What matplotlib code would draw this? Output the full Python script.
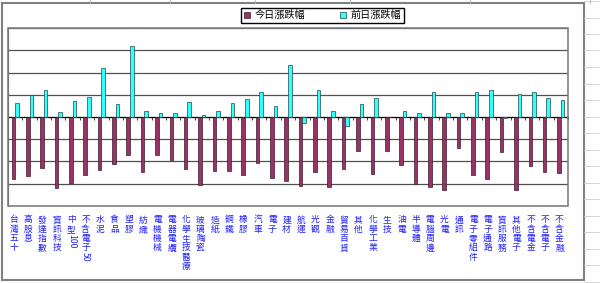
import matplotlib.pyplot as plt
import numpy as np
from matplotlib.patches import Rectangle, Patch
from matplotlib.lines import Line2D

plt.rcParams['font.family'] = ['Noto Sans CJK TC', 'DejaVu Sans']

# categories and values
categories = ['台灣五十', '高股息', '發達指數', '資訊科技', '中型100', '不含電子50',
              '水泥', '食品', '塑膠', '紡織', '電機機械', '電器電纜', '化學生技醫療',
              '玻璃陶瓷', '造紙', '鋼鐵', '橡膠', '汽車', '電子', '建材', '航運',
              '光觀', '金融', '貿易百貨', '其他', '化學工業', '生技', '油電', '半導體',
              '電腦周邊', '光電', '通訊', '電子零組件', '電子通路', '資訊服務',
              '其他電子', '不含電金', '不含電子', '不含金融']
today = [-2.81, -2.66, -2.29, -3.20, -2.98, -2.63, -2.41, -2.11, -1.72, -2.48,
         -1.72, -1.93, -2.35, -3.08, -2.44, -2.44, -2.63, -2.06, -2.75, -2.87,
         -3.11, -2.50, -3.17, -2.35, -1.53, -2.57, -1.53, -2.18, -3.02, -3.17,
         -3.28, -1.41, -2.60, -2.81, -1.59, -3.28, -2.23, -2.50, -2.53]
prev = [0.63, 0.97, 1.22, 0.22, 0.73, 0.92, 2.20, 0.58, 3.18, 0.28,
        0.16, 0.16, 0.67, 0.09, 0.28, 0.64, 0.81, 1.13, 0.49, 2.36,
        -0.27, 1.24, 0.27, -0.39, 0.60, 0.87, 0.02, 0.27, 0.18, 1.12,
        0.16, 0.16, 1.13, 1.21, -0.05, 1.03, 1.12, 0.85, 0.75]
series_names = ['今日漲跌幅', '前日漲跌幅']

W, H = 600, 283
fig = plt.figure(figsize=(W / 100, H / 100), dpi=100)

# spreadsheet cells behind the chart
for yy in np.arange(1, H, 16.5):
    fig.add_artist(Line2D([584 / W, 1], [1 - yy / H, 1 - yy / H], color='#d0d0d0', lw=0.6))
for xx in [90, 170, 255, 350, 470, 590]:
    fig.add_artist(Line2D([xx / W, xx / W], [1 - 3 / H, 1], color='#b0b0b0', lw=0.6))
# chart area frame
fig.add_artist(Rectangle((2 / W, 3 / H), 582 / W, 277 / H, fill=True, facecolor='white',
                         edgecolor='#808080', lw=1.5, zorder=0))

ax = fig.add_axes([8 / W, (H - 205.7) / H, 560 / W, (205.7 - 28.3) / H])
ax.set_facecolor('none')

x = np.arange(len(categories))
bw = 0.25
ax.bar(x - bw / 2, today, bw, color='#993366', edgecolor='#3a1a2a', lw=0.5, zorder=3)
ax.bar(x + bw / 2, prev, bw, color='#33ffff', edgecolor='#1a4a4a', lw=0.5, zorder=3)

ax.set_xlim(-0.5, len(categories) - 0.5)
ax.set_ylim(-4, 4)
ax.set_yticks(np.arange(-4, 5, 1))
ax.yaxis.grid(True, color='#505050', lw=0.9)
ax.tick_params(axis='y', length=0, labelleft=False)

# category axis through zero
ax.spines['bottom'].set_position(('data', 0))
ax.spines['bottom'].set_color('black')
ax.spines['left'].set_color('#404040')
ax.spines['top'].set_visible(False)
ax.spines['right'].set_visible(False)
ax.add_patch(Rectangle((0, 0), 1, 1, transform=ax.transAxes, fill=False,
                       edgecolor='#808080', lw=1.2, zorder=4, clip_on=False))
ax.set_xticks(np.arange(len(categories) + 1) - 0.5)
ax.tick_params(axis='x', direction='out', length=2.5, width=0.7, color='#404040',
               labelbottom=False)

# vertical category labels below the plot area
for i, lab in enumerate(categories):
    cjk = ''.join(c for c in lab if not c.isascii())
    asc = ''.join(c for c in lab if c.isascii())
    t = ax.annotate('\n'.join(cjk), xy=(i, 0), xycoords=('data', 'axes fraction'),
                    xytext=(-1, -7), textcoords='offset points', ha='center', va='top',
                    fontsize=6.3, linespacing=1.05, color='#2020ff')
    if asc:
        ax.annotate(asc, xy=(0.5, 0), xycoords=t, ha='center', va='top',
                    rotation=-90, fontsize=6.3, color='#2020ff')

handles = [Patch(facecolor='#993366', edgecolor='#3a1a2a', lw=0.5),
           Patch(facecolor='#33ffff', edgecolor='#1a4a4a', lw=0.5)]
fig.legend(handles, series_names, loc='center', bbox_to_anchor=(322.5 / W, 1 - 15.3 / H),
           ncol=2, fontsize=7.3, frameon=True, fancybox=False, edgecolor='black',
           handlelength=0.6, handleheight=0.6, handletextpad=0.45, columnspacing=3.4,
           borderpad=0.25, borderaxespad=0, framealpha=1)

fig.savefig('out.png', dpi=100)
